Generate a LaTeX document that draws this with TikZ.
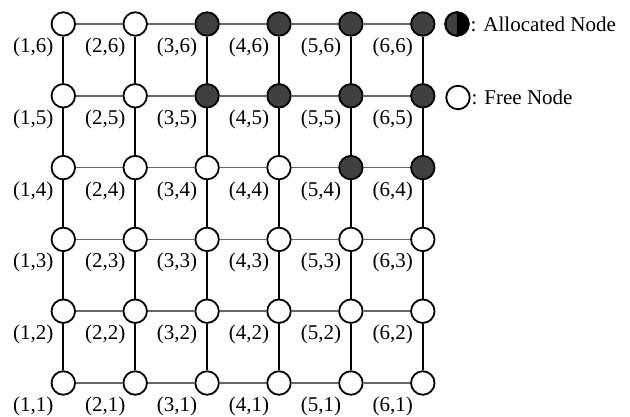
\documentclass[tikz,border=0pt]{standalone}
\usepackage{fontspec}
\setmainfont{Liberation Serif}
\begin{document}
\begin{tikzpicture}[x=1pt,y=-1pt,
  gnode/.style={circle,draw=black,line width=1.8pt,minimum size=23.5pt,inner sep=0pt,fill=white},
  alloc/.style={gnode,fill=black!75},
  hline/.style={draw=black!60,line width=1.6pt},
  vline/.style={draw=black,line width=1.7pt},
  lbl/.style={font=\fontsize{21}{25}\selectfont,inner sep=0pt}]
\useasboundingbox (0,0) rectangle (630,417);
% free nodes
\foreach \i/\j in {1/1,2/1,3/1,4/1,5/1,6/1,1/2,2/2,3/2,4/2,5/2,6/2,1/3,2/3,3/3,4/3,5/3,6/3,1/4,2/4,3/4,4/4,1/5,2/5,1/6,2/6}{
  \pgfmathsetmacro{\px}{63.3+71.9*(\i-1)}
  \pgfmathsetmacro{\py}{383-71.8*(\j-1)}
  \node[gnode] (n-\i-\j) at (\px,\py) {};
}
% allocated nodes
\foreach \i/\j in {5/4,6/4,3/5,4/5,5/5,6/5,3/6,4/6,5/6,6/6}{
  \pgfmathsetmacro{\px}{63.3+71.9*(\i-1)}
  \pgfmathsetmacro{\py}{383-71.8*(\j-1)}
  \node[alloc] (n-\i-\j) at (\px,\py) {};
}
% horizontal edges
\foreach \j in {1,...,6}{
  \foreach \i [evaluate=\i as \k using int(\i+1)] in {1,...,5}{
    \draw[hline] (n-\i-\j) -- (n-\k-\j);
  }
}
% vertical edges
\foreach \i in {1,...,6}{
  \foreach \j [evaluate=\j as \k using int(\j+1)] in {1,...,5}{
    \draw[vline] (n-\i-\j) -- (n-\i-\k);
  }
}
% labels
\foreach \i in {1,...,6}{
  \foreach \j in {1,...,6}{
    \node[lbl] (l-\i-\j) at ([xshift=-30pt,yshift=-23.5pt]n-\i-\j.center) {(\i,\j)};
  }
}
% legend
\node[alloc] (la) at (457,24) {};
\begin{scope}
  \clip (la.north) rectangle ([xshift=20pt]la.south);
  \fill[black] (la.center) circle[radius=11.75pt];
\end{scope}
\draw[line width=1.8pt] (la.center) circle[radius=11.75pt];
\node[lbl,anchor=west] (lat) at ([xshift=0.8pt]la.east) {: Allocated Node};
\node[gnode] (lf) at (458,97.5) {};
\node[lbl,anchor=west] (lft) at ([xshift=0.8pt]lf.east) {: Free Node};
\end{tikzpicture}
\end{document}
